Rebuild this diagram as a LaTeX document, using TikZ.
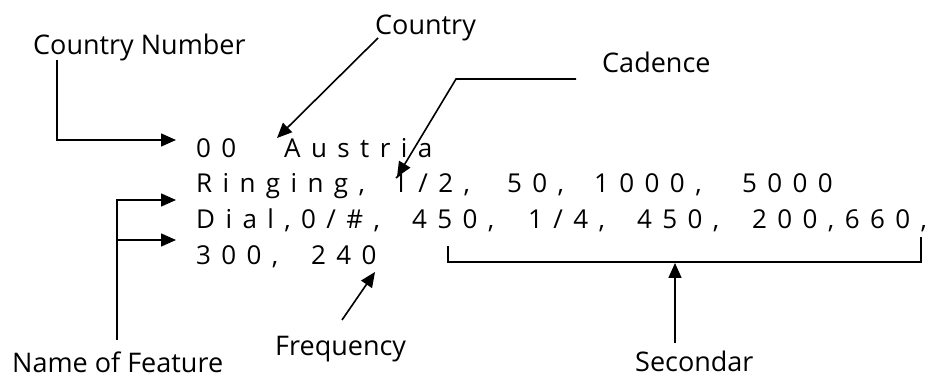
\documentclass[tikz,border=0pt]{standalone}
\usepackage{fontspec}
\setmainfont{Open Sans}
\newfontfamily\codefont[LetterSpace=40]{Open Sans}
\usetikzlibrary{arrows.meta}
\begin{document}
\begin{tikzpicture}[x=1pt,y=-1pt,
  lbl/.style={font=\fontsize{27}{30}\selectfont, inner sep=0pt, anchor=base west},
  code/.style={font=\codefont\fontsize{26}{30}\selectfont, inner sep=0pt, anchor=base west},
  arr/.style={line width=1.6pt, -{Triangle[length=15pt,width=13pt]}},
  brk/.style={line width=1.3pt}]
\useasboundingbox (0,0) rectangle (938,379);
% labels
\node[lbl] (cn) at (33,55) {Country Number};
\node[lbl] (cy) at (375,35) {Country};
\node[lbl] (cad) at (602,73) {Cadence};
\node[lbl] (nf) at (12,373) {Name of Feature};
\node[lbl] (fq) at (275,356) {Frequency};
\node[lbl] (sec) at (635,372) {Secondar};
% code line 1
\node[code] (l1a) at (196,158) {00};
\node[code] (l1b) at (284,158) {Austria};
% code line 2
\node[code] (l2a) at (196,193) {Ringing,};
\node[code] (l2b) at (393,193) {1/2,};
\node[code] (l2c) at (507,193) {50,};
\node[code] (l2d) at (594,193) {1000,};
\node[code] (l2e) at (742,193) {5000};
% code line 3
\node[code] (l3a) at (196,229) {Dial,0/\#,};
\node[code] (l3b) at (412,229) {450,};
\node[code] (l3c) at (528,229) {1/4,};
\node[code] (l3d) at (637,229) {450,};
\node[code] (l3e) at (752,229) {200,660,};
% code line 4
\node[code] (l4a) at (196,265) {300,};
\node[code] (l4b) at (311,265) {240};
% connector coordinates
\coordinate (cnS) at (57,60);
\coordinate (cnT) at (176,140);
\coordinate (cyS) at (378,38);
\coordinate (cyT) at (277,138);
\coordinate (cadS) at (576,79);
\coordinate (cadK) at (456,79);
\coordinate (cadT) at (397,177);
\coordinate (nfS) at (117,340);
\coordinate (nfK) at (117,240);
\coordinate (nfT1) at (176,200);
\coordinate (nfT2) at (176,240);
\coordinate (fqS) at (342,320);
\coordinate (fqT) at (375,272);
\coordinate (bA) at (448,246);
\coordinate (bB) at (448,262);
\coordinate (bC) at (921,262);
\coordinate (bD) at (921,237);
\coordinate (secS) at (675,343);
\coordinate (secT) at (675,263);
% connectors
\draw[arr] (cnS) |- (cnT);
\draw[arr] (cyS) -- (cyT);
\draw[arr] (cadS) -- (cadK) -- (cadT);
\draw[arr] (nfS) |- (nfT1);
\draw[arr] (nfK) -- (nfT2);
\draw[arr] (fqS) -- (fqT);
\draw[brk] (bA) -- (bB) -- (bC) -- (bD);
\draw[arr] (secS) -- (secT);
\end{tikzpicture}
\end{document}
